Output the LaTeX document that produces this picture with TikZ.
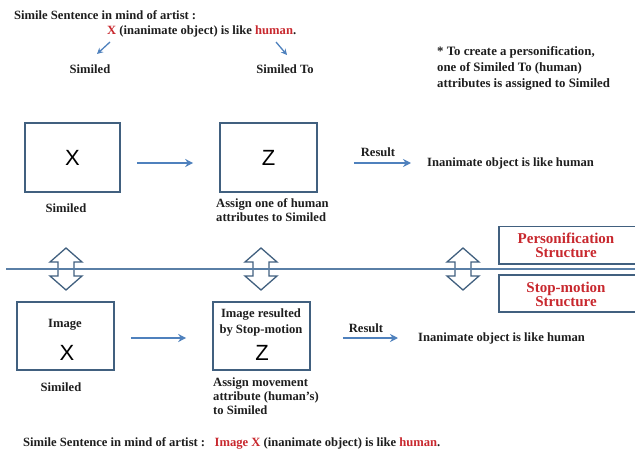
\documentclass[tikz,border=0pt]{standalone}
\usepackage{fontspec}
\setmainfont{Liberation Serif}
\newfontfamily\boxletter{Liberation Sans}
\usetikzlibrary{arrows.meta}
\definecolor{frameblue}{HTML}{41607F}
\definecolor{arrowblue}{HTML}{4F81BD}
\definecolor{lineblue}{HTML}{5A7FA6}
\definecolor{titlered}{HTML}{C8282E}
\definecolor{inkgrey}{HTML}{1E1E1E}

\tikzset{
  lbl/.style={font=\fontsize{12.6}{14}\selectfont\bfseries, inner sep=0pt, text=inkgrey},
  struct/.style={font=\fontsize{15}{14}\selectfont\bfseries, inner sep=0pt, text=titlered, align=center},
  frame/.style={draw=frameblue, line width=1.6pt, minimum width=95pt, minimum height=69pt, inner sep=0pt},
  bigletter/.style={font=\boxletter\fontsize{22}{24}\selectfont, inner sep=0pt},
  flow/.style={draw=arrowblue, line width=1.6pt, -{Stealth[length=8pt,width=8pt]}},
  pointer/.style={draw=arrowblue, line width=1.3pt, -{Stealth[length=6pt,width=6pt]}},
  updown/.pic={
    \draw[frameblue, line width=1.3pt, line join=miter]
      (0,-21) -- (16,-7) -- (8,-7) -- (8,7) -- (16,7) -- (0,21)
      -- (-16,7) -- (-8,7) -- (-8,-7) -- (-16,-7) -- cycle;
  }
}

\begin{document}
\begin{tikzpicture}[x=1pt,y=-1pt]
\useasboundingbox (0,0) rectangle (635,452);

% simile sentence heading
\node[lbl, anchor=west] (head) at (14,15) {Simile Sentence in mind of artist :};
\node[lbl, anchor=west] (sent) at (107,31) {\textcolor{titlered}{X} (inanimate object) is like \textcolor{titlered}{human}.};
\node[lbl] (similedtop) at (90,69) {Similed};
\node[lbl] (similedto) at (285,69) {Similed To};
\coordinate (fromx) at (110,42);
\coordinate (tox) at (97,54);
\coordinate (fromh) at (276,42);
\coordinate (toh) at (287,55);
\draw[pointer] (fromx) -- (tox);
\draw[pointer] (fromh) -- (toh);

% note
\node[lbl, anchor=north west, align=left, font=\fontsize{12.8}{16}\selectfont\bfseries] (note) at (437,46)
  {* To create a personification,\\one of Similed To (human)\\attributes is assigned to Similed};

% personification row
\node[frame] (bx) at (72.5,157.5) {};
\node[bigletter] (lx) at (bx.center) {X};
\node[frame, minimum width=97pt] (bz) at (268.5,157.5) {};
\node[bigletter] (lz) at (bz.center) {Z};
\node[lbl] (simx) at (66,208) {Similed};
\node[lbl, anchor=north west, align=left] (assign1) at (216,198) {Assign one of human\\attributes to Similed};
\node[lbl, anchor=west] (res1) at (427,163) {Inanimate object is like human};
\draw[flow, shorten <=16pt, shorten >=26pt] (bx.east |- res1) -- (bz.west |- res1);
\draw[flow, shorten <=36pt, shorten >=16pt] (bz.east |- res1) -- (res1);
\node[lbl] (r1lbl) at (378,152) {Result};

% separating structures
\pic at (66,269) {updown};
\pic at (261,269) {updown};
\pic at (463,269) {updown};
\coordinate (sepl) at (6,269);
\coordinate (sepr) at (635,269);
\draw[lineblue, line width=2.6pt] (sepl) -- (sepr);
\draw[frameblue, line width=1.4pt] (640,226.5) -- (499,226.5) -- (499,264) -- (640,264);
\draw[frameblue, line width=1.4pt] (640,275) -- (499,275) -- (499,312) -- (640,312);
\node[struct] (pstruct) at (566,245) {Personification\\Structure};
\node[struct] (sstruct) at (566,294) {Stop-motion\\Structure};

% stop-motion row
\node[frame, minimum width=97pt, minimum height=68pt] (ix) at (65.5,336) {};
\node[lbl] (imgw) at (65,325) {Image};
\node[bigletter] (ilx) at (67,353) {X};
\node[frame, minimum width=97pt, minimum height=68pt] (iz) at (261.5,336) {};
\node[lbl, align=center, anchor=north, font=\fontsize{12.6}{16}\selectfont\bfseries] (imgres) at (261,309) {Image resulted\\by Stop-motion};
\node[bigletter] (ilz) at (262,353) {Z};
\node[lbl] (simx2) at (61,387) {Similed};
\node[lbl, anchor=north west, align=left] (assign2) at (213,378) {Assign movement\\attribute (human's)\\to Similed};
\node[lbl, anchor=west] (res2) at (418,338) {Inanimate object is like human};
\draw[flow, shorten <=16pt, shorten >=26pt] (ix.east |- res2) -- (iz.west |- res2);
\draw[flow, shorten <=32pt, shorten >=20pt] (iz.east |- res2) -- (res2);
\node[lbl] (r2lbl) at (366,328) {Result};

% closing sentence
\node[lbl, anchor=west] (foot) at (23,443)
  {Simile Sentence in mind of artist :\ \ \ \textcolor{titlered}{Image X} (inanimate object) is like \textcolor{titlered}{human}.};
\end{tikzpicture}
\end{document}
